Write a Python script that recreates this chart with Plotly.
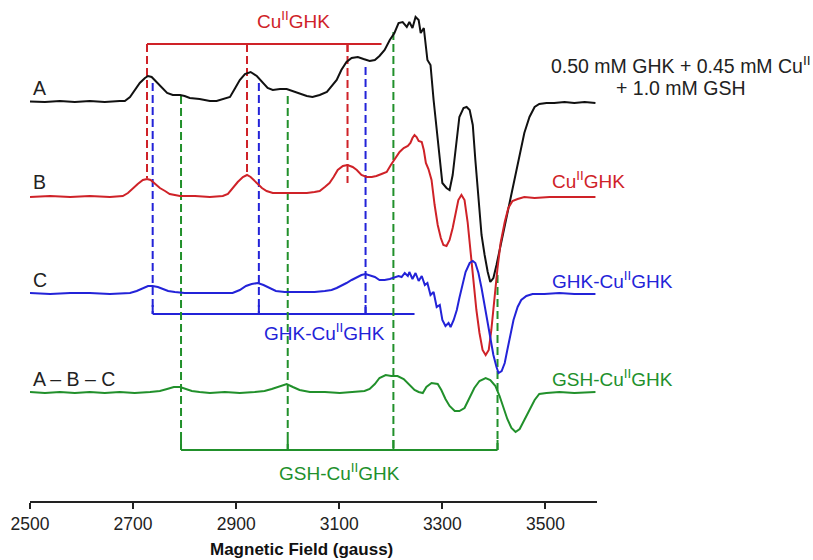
import plotly.graph_objects as go

# ---------------- data (field in gauss, intensity in arbitrary units) ----------------
field_A = [2500, 2529, 2558, 2587, 2616, 2645, 2674, 2684, 2694, 2703, 2713, 2723, 2729, 2736, 2746, 2756,
           2766, 2777, 2791, 2800, 2810, 2829, 2849, 2862, 2878, 2888, 2897, 2907, 2917, 2928, 2940, 2952,
           2961, 2971, 2985, 2998, 3010, 3023, 3037, 3048, 3062, 3076, 3085, 3095, 3104, 3114, 3124, 3136,
           3147, 3159, 3169, 3178, 3188, 3198, 3207, 3215, 3223, 3231, 3236, 3242, 3248, 3254, 3258, 3264,
           3271, 3277, 3283, 3289, 3295, 3300, 3308, 3314, 3320, 3326, 3333, 3341, 3347, 3353, 3359, 3364,
           3370, 3376, 3382, 3388, 3393, 3399, 3405, 3411, 3418, 3426, 3434, 3444, 3451, 3459, 3469, 3479,
           3488, 3502, 3517, 3537, 3556, 3576, 3597]
int_A = [-0.5, -1, 0, -1, 0, -1, 0, 0, 4, 11, 18, 23, 25, 24, 19, 13,
         8, 6, 6, 5, 3, 2, 0, 0, 2, 4, 12, 21, 27, 29, 25, 18,
         13, 11, 12, 12, 10, 8, 5, 4, 6, 9, 15, 21, 31, 39, 43, 44,
         42, 40, 41, 45, 51, 61, 68, 78, 79, 74, 79, 73, 84, 81, 68, 73,
         41, 36, 1, -27, -59, -82, -87, -89, -74, -49, -16, -7, -6, -9, -24, -59,
         -99, -134, -154, -171, -181, -177, -164, -149, -131, -112, -91, -69, -49, -32, -16, -6,
         -3, -2, -2, -1, -2, -1, -2]

field_B = [2500, 2539, 2578, 2616, 2655, 2680, 2690, 2700, 2709, 2719, 2727, 2734, 2744, 2752, 2762, 2771,
           2791, 2820, 2849, 2874, 2884, 2893, 2903, 2913, 2921, 2928, 2940, 2950, 2959, 2971, 2985, 3014,
           3037, 3052, 3062, 3072, 3081, 3089, 3097, 3107, 3116, 3126, 3134, 3143, 3153, 3163, 3172, 3182,
           3192, 3200, 3207, 3217, 3225, 3233, 3238, 3242, 3246, 3250, 3254, 3260, 3264, 3268, 3273, 3279,
           3285, 3291, 3297, 3302, 3308, 3314, 3320, 3326, 3331, 3337, 3343, 3349, 3355, 3360, 3366, 3372,
           3378, 3384, 3390, 3395, 3401, 3407, 3413, 3421, 3428, 3436, 3446, 3459, 3479, 3508, 3537, 3566,
           3597]
int_B = [-1, 0, -1, 0, -1, 0, 3, 8, 12, 16, 17, 16, 11, 8, 5, 2,
         0, 0, -1, 0, 2, 8, 14, 19, 21, 19, 13, 8, 5, 3, 3, 3,
         3, 4, 5, 9, 13, 19, 26, 30, 31, 29, 26, 21, 19, 19, 20, 22,
         24, 31, 36, 44, 48, 50, 53, 58, 61, 59, 55, 54, 46, 33, 27, 16,
         -9, -29, -42, -49, -50, -44, -32, -16, -4, 1, -4, -26, -59, -89, -114, -137,
         -154, -159, -154, -134, -100, -72, -47, -26, -12, -5, -3, -1, -2, -1, -1, -1,
         -1]

field_C = [2500, 2539, 2578, 2616, 2655, 2694, 2707, 2719, 2729, 2738, 2748, 2758, 2768, 2781, 2800, 2829,
           2858, 2893, 2907, 2919, 2930, 2942, 2953, 2965, 2977, 2994, 3023, 3052, 3072, 3085, 3095, 3104,
           3114, 3124, 3134, 3143, 3151, 3159, 3169, 3178, 3188, 3198, 3207, 3215, 3221, 3227, 3233, 3236,
           3242, 3248, 3254, 3260, 3266, 3271, 3277, 3283, 3289, 3295, 3300, 3306, 3312, 3316, 3322, 3328,
           3333, 3339, 3345, 3353, 3359, 3364, 3370, 3376, 3382, 3388, 3393, 3399, 3405, 3409, 3415, 3421,
           3426, 3432, 3438, 3446, 3453, 3463, 3475, 3498, 3527, 3556, 3597]
int_C = [0, -1, 0, 0, -1, 0, 2, 5, 7, 7, 6, 4, 2, 1, 0, 0,
         0, 0, 3, 7, 9, 10, 8, 5, 2, 1, 1, 1, 2, 3, 5, 7,
         10, 13, 16, 18, 19, 18, 16, 13, 13, 14, 16, 17, 16, 20, 17, 21,
         14, 20, 12, 17, 8, 10, -2, 1, -14, -12, -27, -33, -30, -34, -27, -17,
         -5, 8, 21, 30, 32, 30, 20, 5, -12, -29, -47, -62, -74, -80, -78, -70,
         -57, -42, -27, -14, -7, -3, -1, -1, 0, -1, -1]

field_D = [2500, 2529, 2558, 2587, 2616, 2645, 2674, 2703, 2733, 2752, 2766, 2779, 2791, 2802, 2814, 2829,
           2849, 2878, 2907, 2936, 2955, 2969, 2985, 2998, 3010, 3023, 3043, 3072, 3101, 3130, 3149, 3159,
           3169, 3178, 3190, 3201, 3213, 3225, 3236, 3246, 3254, 3262, 3269, 3279, 3291, 3298, 3306, 3314,
           3324, 3333, 3343, 3353, 3362, 3372, 3384, 3393, 3403, 3411, 3418, 3426, 3434, 3442, 3450, 3459,
           3469, 3479, 3488, 3502, 3527, 3556, 3597]
int_D = [0, -1, 0, -1, 0, -1, 0, -1, 0, 1, 3, 5, 5, 3, 1, 0,
         -1, 0, -1, 0, 1, 3, 6, 8, 5, 2, 0, 0, -1, 0, 1, 3,
         8, 14, 17, 16, 16, 13, 7, 2, 0, -1, 5, 9, 8, 2, -7, -14,
         -19, -19, -16, -6, 4, 11, 14, 12, 6, -4, -15, -27, -36, -40, -37, -28,
         -18, -8, -2, -1, 0, -1, 0]

offsets = [400, 305, 208, 109]          # vertical stacking offsets of A, B, C, A-B-C
trace_names = ["A", "B", "C", "A – B – C"]
species_names = ["Cu<sup>II</sup>GHK", "GHK-Cu<sup>II</sup>GHK", "GSH-Cu<sup>II</sup>GHK"]

# marker positions (gauss)
red_fields = [2727, 2921, 3116]
red_bracket_end = 3182
blue_fields = [2738, 2944, 3151]
blue_bracket_end = 3246
green_fields = [2793, 3000, 3205, 3407]

tick_vals = [2500, 2700, 2900, 3100, 3300, 3500]

X_RANGE = [2500, 3600]
Y_RANGE = [0, 501]

# ---------------- styling ----------------
BLACK = "#111111"
RED = "#cf2228"
BLUE = "#2323d8"
GREEN = "#21902b"
FONT = "Liberation Sans, Arial, Helvetica, sans-serif"
DASH = "8px,4px"

fig = go.Figure()

fields = [field_A, field_B, field_C, field_D]
ints = [int_A, int_B, int_C, int_D]
colors = [BLACK, RED, BLUE, GREEN]

def vline(x, y0, y1, color, dash=DASH):
    fig.add_trace(go.Scatter(x=[x, x], y=[y0, y1], mode="lines",
                             line=dict(color=color, width=2, dash=dash),
                             hoverinfo="skip", showlegend=False))

def hline(x0, x1, y, color):
    fig.add_trace(go.Scatter(x=[x0, x1], y=[y, y], mode="lines",
                             line=dict(color=color, width=2),
                             hoverinfo="skip", showlegend=False))

red_y = 457
red_bottoms = [323, 326, 318]
for f, yb in zip(red_fields, red_bottoms):
    vline(f, red_y, yb, RED)
    vline(f, red_y, red_y - 8, RED, dash="solid")
hline(red_fields[0], red_bracket_end, red_y, RED)

blue_y = 187
blue_tops = [418, 418, 434]
for f, yt in zip(blue_fields, blue_tops):
    vline(f, yt, blue_y, BLUE)
    vline(f, blue_y, blue_y + 9, BLUE, dash="solid")
hline(blue_fields[0], blue_bracket_end, blue_y, BLUE)

green_y = 51
green_tops = [405, 405, 469, 226]
for f, yt in zip(green_fields, green_tops):
    vline(f, yt, green_y, GREEN)
    vline(f, green_y, green_y + 10, GREEN, dash="solid")
hline(green_fields[0], green_fields[-1], green_y, GREEN)

# spectra
for fx, iy, off, col in zip(fields, ints, offsets, colors):
    fig.add_trace(go.Scatter(x=fx, y=[v + off for v in iy], mode="lines",
                             line=dict(color=col, width=2),
                             hoverinfo="skip", showlegend=False))

annotations = []
def ann(x, y, text, color, size=18, xanchor="left", bold=False):
    # positions given in data units, converted to paper units so that texts outside the axes still show
    xp = (x - X_RANGE[0]) / (X_RANGE[1] - X_RANGE[0])
    yp = (y - Y_RANGE[0]) / (Y_RANGE[1] - Y_RANGE[0])
    annotations.append(dict(x=xp, y=yp, xref="paper", yref="paper",
                            text=("<b>%s</b>" % text) if bold else text,
                            showarrow=False, xanchor=xanchor, yanchor="middle",
                            font=dict(family=FONT, size=size, color=color)))

# left trace labels
label_y = [413, 319, 221, 122]
for name, yy in zip(trace_names, label_y):
    ann(2501, yy, name, "#222222", size=19.5)

# right species labels
ann(3509, 321, species_names[0], RED, size=19)
ann(3509, 221, species_names[1], BLUE, size=19)
ann(3509, 123, species_names[2], GREEN, size=19)

# bracket labels
ann(3012, 481, species_names[0], RED, size=19, xanchor="center")
ann(3072, 169, species_names[1], BLUE, size=19, xanchor="center")
ann(3100, 29, species_names[2], GREEN, size=19, xanchor="center")

# sample description
ann(3762, 436, "0.50 mM GHK + 0.45 mM Cu<sup>II</sup>", "#222222", size=19.5, xanchor="center")
ann(3762, 413, "+ 1.0 mM GSH", "#222222", size=19.5, xanchor="center")

# axis title
ann(3027, -48, "Magnetic Field (gauss)", "#111111", size=17, xanchor="center", bold=True)

fig.update_layout(
    width=813, height=560,
    margin=dict(l=30, r=216, t=0, b=59),
    paper_bgcolor="white", plot_bgcolor="white",
    showlegend=False,
    annotations=annotations,
    xaxis=dict(range=X_RANGE, tickvals=tick_vals, ticktext=[str(v) for v in tick_vals],
               showline=True, linecolor="#222222", linewidth=2,
               ticks="outside", ticklen=6, tickwidth=2, tickcolor="#222222",
               showgrid=False, zeroline=False, automargin=False,
               tickfont=dict(family=FONT, size=17.5, color="#222222")),
    yaxis=dict(range=Y_RANGE, visible=False, showgrid=False, zeroline=False),
)

fig.write_html("out.html", config={"displayModeBar": False},
               post_script="document.body.style.margin='0';")
